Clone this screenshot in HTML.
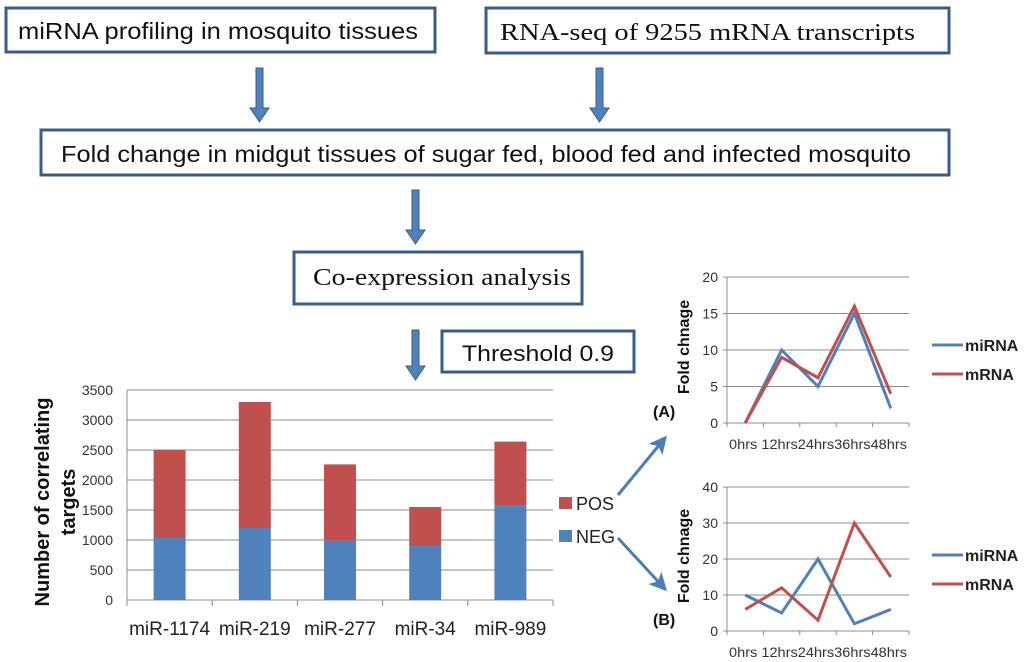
<!DOCTYPE html>
<html><head><meta charset="utf-8">
<style>
html,body{margin:0;padding:0;background:#fff;}
svg{display:block;font-family:"Liberation Sans",sans-serif;}
</style></head>
<body>
<svg id="fig" width="1024" height="662" viewBox="0 0 1024 662" xmlns="http://www.w3.org/2000/svg">
  <defs>
    <marker id="ah" markerWidth="6" markerHeight="6" refX="5" refY="3" orient="auto" markerUnits="strokeWidth">
      <path d="M0,0 L6,3 L0,6 L1.5,3 z" fill="#4a7ebb"/>
    </marker>
  </defs>
  <g>
    <rect x="6" y="8" width="429" height="44" fill="#fff" stroke="#385d8a" stroke-width="3"/>
    <text x="18" y="39" font-size="23" fill="#111" textLength="400" lengthAdjust="spacingAndGlyphs">miRNA profiling in mosquito tissues</text>
  </g>
  <g>
    <rect x="486" y="8" width="463" height="45" fill="#fff" stroke="#385d8a" stroke-width="3"/>
    <text x="500" y="40" font-size="24" fill="#111" font-family="Liberation Serif, serif" textLength="415" lengthAdjust="spacingAndGlyphs">RNA-seq of 9255  mRNA transcripts</text>
  </g>
  <g>
    <rect x="41" y="130" width="908" height="45" fill="#fff" stroke="#385d8a" stroke-width="3"/>
    <text x="61" y="162" font-size="23" fill="#111" textLength="850" lengthAdjust="spacingAndGlyphs">Fold change in midgut tissues of sugar fed, blood fed and infected mosquito</text>
  </g>
  <g>
    <rect x="294" y="252" width="288" height="52" fill="#fff" stroke="#385d8a" stroke-width="3"/>
    <text x="313" y="285" font-size="24" fill="#111" font-family="Liberation Serif, serif" textLength="258" lengthAdjust="spacingAndGlyphs">Co-expression analysis</text>
  </g>
  <g>
    <rect x="442" y="331" width="192" height="41" fill="#fff" stroke="#385d8a" stroke-width="3"/>
    <text x="462" y="361" font-size="22" fill="#111" textLength="152" lengthAdjust="spacingAndGlyphs">Threshold 0.9</text>
  </g>
  <g fill="#4f81bd" stroke="#385d8a" stroke-width="1">
    <path d="M256,68 h7 v40 h6 l-9.5,14 l-9.5,-14 h6 z"/>
    <path d="M596,68 h7 v40 h6 l-9.5,14 l-9.5,-14 h6 z"/>
    <path d="M412,190 h7 v40 h6 l-9.5,14 l-9.5,-14 h6 z"/>
    <path d="M412,330 h7 v36 h6 l-9.5,14 l-9.5,-14 h6 z"/>
  </g>
  <line x1="618" y1="495" x2="665" y2="438" stroke="#4a7ebb" stroke-width="3" marker-end="url(#ah)"/>
  <line x1="618" y1="538" x2="665" y2="589" stroke="#4a7ebb" stroke-width="3" marker-end="url(#ah)"/>

  <g id="bar"></g>
  <g id="lineA"></g>
  <g id="lineB"></g>
</svg>
<script>
const barCategories = ["miR-1174","miR-219","miR-277","miR-34","miR-989"];
const negValues = [1050,1200,990,900,1570];
const posValues = [1450,2100,1270,650,1070];
const barTicks = [0,500,1000,1500,2000,2500,3000,3500];

const timeLabels = ["0hrs","12hrs","24hrs","36hrs","48hrs"];
const aMirna = [0,10,5,15,2];
const aMrna = [0,9,6.2,16,4];
const aTicks = [0,5,10,15,20];
const bMirna = [10,5,20,2,6];
const bMrna = [6,12,3,30,15];
const bTicks = [0,10,20,30,40];

const NS="http://www.w3.org/2000/svg";
function mk(parent, tag, attrs, text){
  const e=document.createElementNS(NS,tag);
  for(const k in attrs) e.setAttribute(k,attrs[k]);
  if(text!==undefined) e.textContent=text;
  parent.appendChild(e); return e;
}
const BLUE="#4f81bd", RED="#c0504d", GRID="#8c8c8c";

(function(){
  const g=document.getElementById('bar');
  const x0=127,x1=553,y0=600,y1=390,max=3500;
  const ys=v=>y0-(v/max)*(y0-y1);
  const band=(x1-x0)/barCategories.length;
  const xc=i=>x0+band*(i+0.5);
  barTicks.forEach(t=>{
    const l=mk(g,'line',{x1:x0,x2:x1,y1:ys(t),y2:ys(t),stroke:GRID,'stroke-width':1});
    
    
    const tx=mk(g,'text',{x:113,y:ys(t)+5,'font-size':14,'text-anchor':'end',fill:'#333'},t);
    
    
  });
  mk(g,'line',{x1:x0,x2:x0,y1:y1,y2:y0+6,stroke:GRID});
  for(let i=0;i<=barCategories.length;i++){
    mk(g,'line',{x1:x0+band*i,x2:x0+band*i,y1:y0,y2:y0+6,stroke:GRID});
  }
  barCategories.forEach((c,i)=>{
    const w=32;
    const rn=mk(g,'rect',{x:xc(i)-w/2,y:ys(negValues[i]),width:w,height:y0-ys(negValues[i]),fill:BLUE});
    
    
    const rp=mk(g,'rect',{x:xc(i)-w/2,y:ys(negValues[i]+posValues[i]),width:w,height:ys(negValues[i])-ys(negValues[i]+posValues[i]),fill:RED});
    
    
    const t=mk(g,'text',{x:xc(i),y:635,'font-size':19,'text-anchor':'middle',fill:'#222'},c);
    
    
  });
  const yt=mk(g,'text',{transform:'translate(49,502) rotate(-90)','font-size':20,'font-weight':'bold','text-anchor':'middle',fill:'#111'},'Number of correlating');
  
  
  const yt2=mk(g,'text',{transform:'translate(75,502) rotate(-90)','font-size':20,'font-weight':'bold','text-anchor':'middle',fill:'#111'},'targets');
  
  
  [["POS",RED,497],["NEG",BLUE,530]].forEach(([n,c,y])=>{
    const lg=mk(g,'g',{});
    
    
    mk(lg,'rect',{x:559,y:y,width:13,height:12,fill:c});
    mk(lg,'text',{x:576,y:y+13,'font-size':18,fill:'#222'},n);
  });
})();

function lineChart(id,s1,s2,ticks,y0,y1,leg1,label){
  const g=document.getElementById(id);
  const x0=727,x1=909,max=ticks[ticks.length-1];
  const ys=v=>y0-(v/max)*(y0-y1);
  const band=(x1-x0)/timeLabels.length;
  const xc=i=>x0+band*(i+0.5);
  ticks.forEach(t=>{
    const l=mk(g,'line',{x1:x0-4,x2:x1,y1:ys(t),y2:ys(t),stroke:GRID});
    
    
    const tx=mk(g,'text',{x:x0-9,y:ys(t)+5,'font-size':14,'text-anchor':'end',fill:'#333'},t);
    
    
  });
  mk(g,'line',{x1:x0,x2:x0,y1:y1,y2:y0+4,stroke:GRID});
  for(let i=0;i<=timeLabels.length;i++) mk(g,'line',{x1:x0+band*i,x2:x0+band*i,y1:y0,y2:y0+4,stroke:GRID});
  const xl=mk(g,'text',{x:818,y:y0+26,'font-size':14,'text-anchor':'middle',fill:'#333',textLength:178,lengthAdjust:'spacingAndGlyphs'},timeLabels[0]+' '+timeLabels.slice(1).join(''));
  
  
  [[s1,BLUE,'line-mirna'],[s2,RED,'line-mrna']].forEach(([s,c,n])=>{
    const p=mk(g,'polyline',{points:s.map((v,i)=>xc(i)+','+ys(v)).join(' '),fill:'none',stroke:c,'stroke-width':3,'stroke-linejoin':'miter'});
    
    
  });
  const yt=mk(g,'text',{transform:`translate(689,${(y0+y1)/2-3}) rotate(-90)`,'font-size':16,'font-weight':'bold','text-anchor':'middle',fill:'#111'},'Fold chnage');
  
  
  const lb=mk(g,'text',{x:653,y:y0-6,'font-size':16,'font-weight':'bold',fill:'#111'},label);
  
  
  [['miRNA',BLUE,leg1],['mRNA',RED,leg1+29]].forEach(([n,c,y])=>{
    const lg=mk(g,'g',{});
    
    
    mk(lg,'line',{x1:932,x2:963,y1:y,y2:y,stroke:c,'stroke-width':3});
    mk(lg,'text',{x:965,y:y+6,'font-size':16,'font-weight':'bold',fill:'#222'},n);
  });
}
lineChart('lineA',aMirna,aMrna,aTicks,423,277,345,'(A)');
lineChart('lineB',bMirna,bMrna,bTicks,631,487,555,'(B)');
</script>
</body></html>
